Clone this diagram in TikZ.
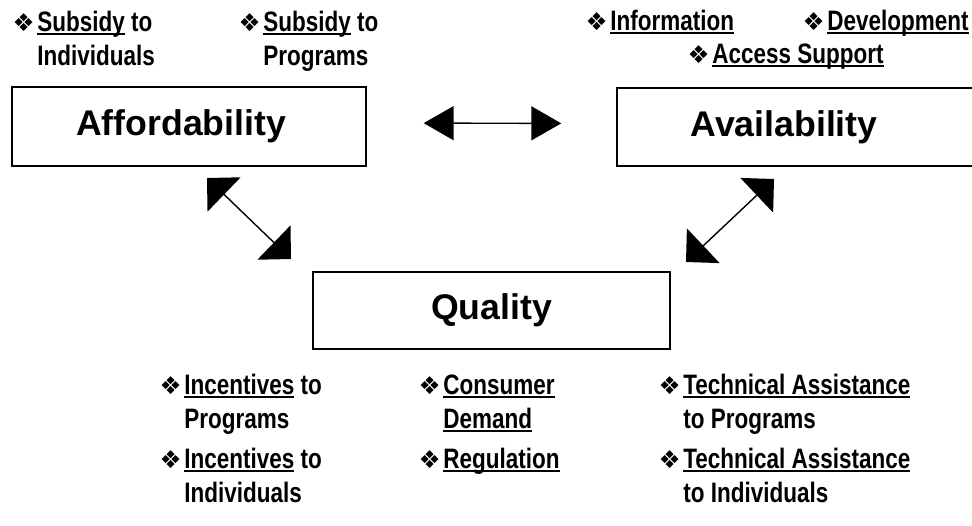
\documentclass[tikz,border=0pt]{standalone}
\usepackage{fontspec}
\setmainfont{Liberation Sans}
\newfontfamily\narrowfont{Liberation Sans}[FakeStretch=0.8]
\newfontfamily\dingfont{DejaVu Sans}
\usetikzlibrary{arrows.meta}
\newsavebox{\ulbox}
\newcommand{\ulword}[1]{\sbox{\ulbox}{#1}\rlap{\rule[-2.2pt]{\wd\ulbox}{1.1pt}}\usebox{\ulbox}}
\newcommand{\dia}{\llap{{\dingfont\fontsize{14}{14}\selectfont ❖}\hspace{1.5pt}}}
\tikzset{
  keybox/.style={draw, line width=1.1pt, inner sep=0pt, font=\fontsize{20.3}{24}\selectfont\bfseries},
  itemtext/.style={anchor=base west, align=left, inner sep=0pt, font=\narrowfont\fontsize{16}{19.3}\selectfont\bfseries},
  wide link/.style={line width=0.8pt, {Triangle[length=17pt,width=19.3pt]}-{Triangle[length=17pt,width=19.3pt]}},
  slant link/.style={line width=0.8pt, {Triangle[length=13.5pt,width=27pt]}-{Triangle[length=13.5pt,width=27pt]}}
}
\begin{document}
\begin{tikzpicture}[x=0.02cm,y=-0.02cm]
\useasboundingbox (0,0) rectangle (972,525);
\node[keybox, minimum width=7.08cm, minimum height=1.58cm] (afford) at (189,126.5) {Affordability\kern9pt};
\node[keybox, minimum width=7.14cm, minimum height=1.56cm] (avail) at (795.5,127) {Availability\kern13pt};
\node[keybox, minimum width=7.14cm, minimum height=1.54cm] (quality) at (491.5,310.5) {Quality};
\draw[wide link, shorten <=32.3pt, shorten >=31.2pt] ([yshift=2pt]afford.east) -- ([yshift=2pt]avail.west);
\coordinate (aqtop) at (207,178);
\coordinate (aqbot) at (291,259);
\coordinate (vqtop) at (774,179);
\coordinate (vqbot) at (686,262);
\draw[slant link] (aqtop) -- (aqbot);
\draw[slant link] (vqtop) -- (vqbot);
\node[itemtext] (subind) at (37,65) {\dia\ulword{Subsidy} to\\Individuals};
\node[itemtext] (subprog) at (263,65) {\dia\ulword{Subsidy} to\\Programs};
\node[itemtext] (info) at (610,30) {\dia\ulword{Information}};
\node[itemtext] (devel) at (827,30) {\dia\ulword{Development}};
\node[itemtext] (access) at (712,63) {\dia\ulword{Access Support}};
\node[itemtext] (incprog) at (184,428) {\dia\ulword{Incentives} to\\Programs};
\node[itemtext] (consumer) at (443,428) {\dia\ulword{Consumer}\\\ulword{Demand}};
\node[itemtext] (techprog) at (683,428) {\dia\ulword{Technical Assistance}\\to Programs};
\node[itemtext] (incind) at (184,502) {\dia\ulword{Incentives} to\\Individuals};
\node[itemtext] (regul) at (443,468) {\dia\ulword{Regulation}};
\node[itemtext] (techind) at (683,502) {\dia\ulword{Technical Assistance}\\to Individuals};
\end{tikzpicture}
\end{document}
